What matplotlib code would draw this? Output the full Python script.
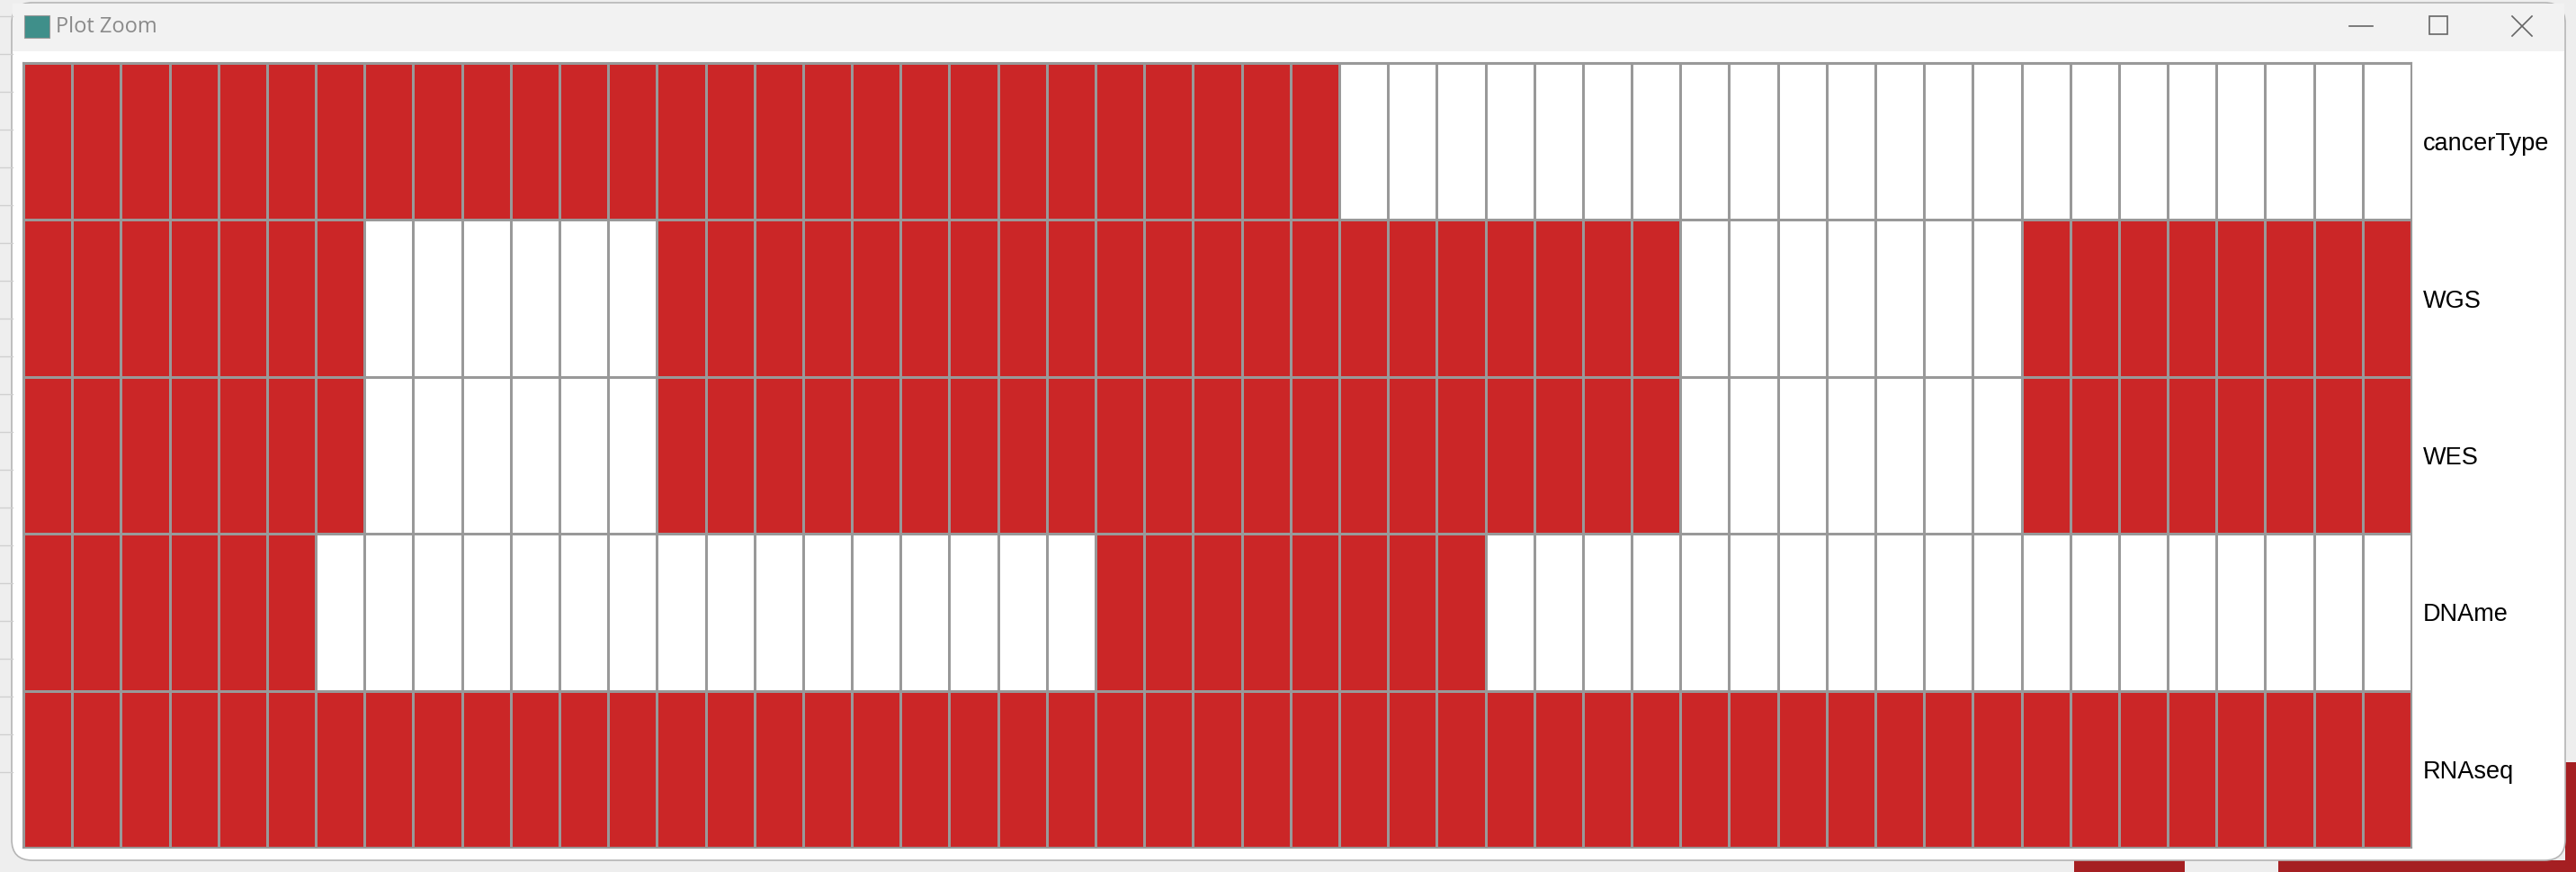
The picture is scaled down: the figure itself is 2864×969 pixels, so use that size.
import numpy as np
import matplotlib
matplotlib.use("Agg")
import matplotlib.pyplot as plt
from matplotlib.colors import ListedColormap
from matplotlib.patches import Rectangle, FancyBboxPatch

# rows top -> bottom, 49 samples each (1 = data available)
rows = ["cancerType", "WGS", "WES", "DNAme", "RNAseq"]
cancerType = [1] * 27 + [0] * 22
WGS = [1] * 7 + [0] * 6 + [1] * 21 + [0] * 7 + [1] * 8
WES = [1] * 7 + [0] * 6 + [1] * 21 + [0] * 7 + [1] * 8
DNAme = [1] * 6 + [0] * 16 + [1] * 8 + [0] * 19
RNAseq = [1] * 49

W, H = 2864, 969
fig = plt.figure(figsize=(W / 100, H / 100), dpi=100)
fig.patch.set_facecolor("#eeeeee")


def fx(x):
    return x / W


def fy(y):
    return 1 - y / H


# stuff behind the window (other panes)
for y in range(18, 900, 42):
    fig.add_artist(plt.Line2D([0, fx(14)], [fy(y), fy(y)], color="#d0d0d0", lw=1))
fig.add_artist(Rectangle((fx(2306), 0), fx(2429) - fx(2306), fy(956), color="#a51f22", lw=0))
fig.add_artist(Rectangle((fx(2533), 0), 1 - fx(2533), fy(956), color="#a51f22", lw=0))
fig.add_artist(Rectangle((fx(2852), 0), 1 - fx(2852), fy(847), color="#a51f22", lw=0))

# window frame + title bar
fig.add_artist(FancyBboxPatch((fx(13), fy(956)), fx(2852) - fx(13), fy(3) - fy(956),
                              boxstyle="round,pad=0,rounding_size=0.008",
                              facecolor="white", edgecolor="#b5b5b5", lw=1.2,
                              mutation_aspect=W / H))
fig.add_artist(Rectangle((fx(14), fy(57)), fx(2851) - fx(14), fy(4) - fy(57),
                         color="#f2f2f2", lw=0))
fig.add_artist(Rectangle((fx(27), fy(42)), fx(55) - fx(27), fy(17) - fy(42),
                         facecolor="#3f8f8a", edgecolor="#9a9a9a", lw=0.8))
fig.text(fx(62), fy(30), "Plot Zoom", fontsize=17, color="#8a8a8a",
         family=["Open Sans", "DejaVu Sans"], va="center", ha="left")
# window buttons
fig.add_artist(plt.Line2D([fx(2612), fx(2638)], [fy(29), fy(29)], color="#666666", lw=1.2))
fig.add_artist(Rectangle((fx(2701), fy(38)), fx(20), fy(0) - fy(20),
                         facecolor="none", edgecolor="#666666", lw=1.2))
fig.add_artist(plt.Line2D([fx(2793), fx(2815)], [fy(18), fy(40)], color="#666666", lw=1.2))
fig.add_artist(plt.Line2D([fx(2793), fx(2815)], [fy(40), fy(18)], color="#666666", lw=1.2))

# heatmap
data = np.array([cancerType, WGS, WES, DNAme, RNAseq])
left, right, top, bottom = 26, 2681, 70, 942
ax = fig.add_axes([fx(left), fy(bottom), fx(right) - fx(left), fy(top) - fy(bottom)])
ax.set_zorder(10)
ax.patch.set_alpha(0)
cmap = ListedColormap(["white", "#cb2627"])
ax.pcolormesh(data, cmap=cmap, vmin=0, vmax=1, edgecolors="#999999", linewidth=1.0)
ax.set_xlim(0, data.shape[1])
ax.set_ylim(data.shape[0], 0)
ax.set_xticks([])
ax.yaxis.tick_right()
ax.set_yticks(np.arange(len(rows)) + 0.5)
ax.set_yticklabels(rows, fontsize=19.5, family=["Liberation Sans", "DejaVu Sans"])
ax.tick_params(axis="y", length=0, pad=9)
for s in ax.spines.values():
    s.set_color("#999999")
    s.set_linewidth(1.5)

fig.savefig("out.png", dpi=100, facecolor=fig.get_facecolor())
